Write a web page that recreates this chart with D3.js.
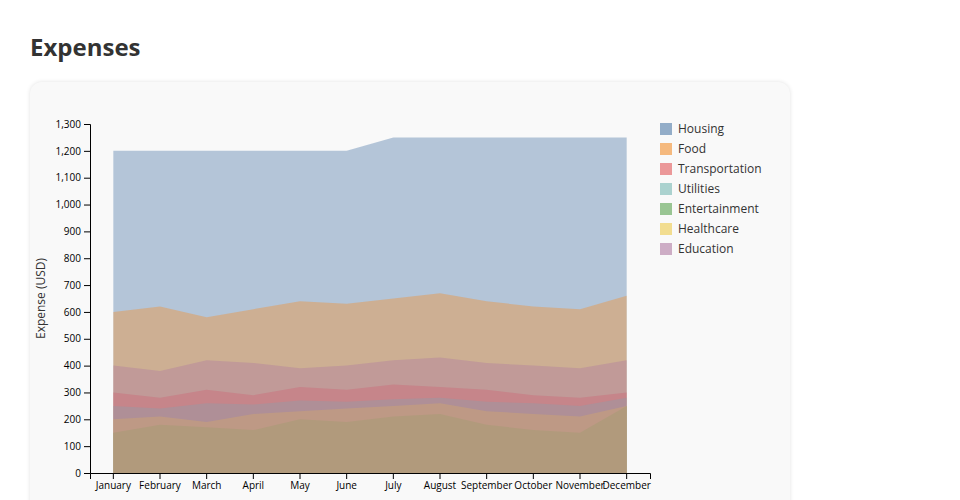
<!DOCTYPE html>
<html>
<head>
<meta charset="utf-8">
<script src="https://cdn.jsdelivr.net/npm/d3@7"></script>
<style>
  html, body { margin: 0; padding: 0; background: #fff; width: 960px; height: 500px; overflow: hidden; font-family: "Open Sans", sans-serif; }
  h1 { position: absolute; left: 30px; top: 30px; margin: 0; font-size: 24px; font-weight: 700; color: #333; line-height: 34px; }
  .card { position: absolute; left: 30px; top: 82px; width: 760px; height: 460px; background: #f9f9f9; border-radius: 12px; box-shadow: 0 0 4px rgba(0,0,0,0.12); }
  svg { position: absolute; left: 0; top: 0; }
  .tick text { font-family: "Open Sans", sans-serif; font-size: 10px; fill: #000; }
</style>
</head>
<body>
<h1>Expenses</h1>
<div class="card"></div>
<svg id="chart" width="960" height="500"></svg>
<script>
const months = ["January","February","March","April","May","June","July","August","September","October","November","December"];
const seriesNames = ["Housing","Food","Transportation","Utilities","Entertainment","Healthcare","Education"];
const housing        = [1200,1200,1200,1200,1200,1200,1250,1250,1250,1250,1250,1250];
const food           = [600,620,580,610,640,630,650,670,640,620,610,660];
const transportation = [300,280,310,290,320,310,330,320,310,290,280,300];
const utilities      = [250,240,260,255,270,265,275,280,265,260,250,280];
const entertainment  = [150,180,170,160,200,190,210,220,180,160,150,250];
const healthcare     = [200,210,190,220,230,240,250,260,230,220,210,250];
const education      = [400,380,420,410,390,400,420,430,410,400,390,420];
const yTicks = [0,100,200,300,400,500,600,700,800,900,1000,1100,1200,1300];

const seriesValues = [housing, food, transportation, utilities, entertainment, healthcare, education];
const colors = d3.scaleOrdinal().domain(seriesNames).range(d3.schemeTableau10);

const svg = d3.select("#chart");
const plotLeft = 90, plotRight = 650, plotTop = 124, plotBottom = 473;

const x = d3.scaleBand().domain(months).range([plotLeft, plotRight]).padding(0);
const y = d3.scaleLinear().domain([0, 1300]).range([plotBottom, plotTop]);

const area = d3.area()
  .x((d, i) => x(months[i]) + x.bandwidth() / 2)
  .y0(y(0))
  .y1(d => y(d));

seriesNames.forEach((name, k) => {
  svg.append("path")
    .datum(seriesValues[k])
    .attr("d", area)
    .attr("fill", colors(name))
    .attr("fill-opacity", 0.4);
});

svg.append("g")
  .attr("transform", `translate(0,${plotBottom})`)
  .call(d3.axisBottom(x));

svg.append("g")
  .attr("transform", `translate(${plotLeft},0)`)
  .call(d3.axisLeft(y).tickValues(yTicks).tickFormat(d3.format(",")));

svg.append("text")
  .attr("transform", `translate(45,${(plotTop + plotBottom) / 2}) rotate(-90)`)
  .attr("text-anchor", "middle")
  .style("font-family", "Open Sans, sans-serif")
  .style("font-size", "12px")
  .style("fill", "#333")
  .text("Expense (USD)");

const legend = svg.append("g").attr("transform", "translate(660,123)");
seriesNames.forEach((name, i) => {
  const g = legend.append("g").attr("transform", `translate(0,${i * 20})`);
  g.append("rect").attr("width", 12).attr("height", 12)
    .attr("fill", colors(name)).attr("fill-opacity", 0.6);
  g.append("text").attr("x", 18).attr("y", 6).attr("dy", "0.35em")
    .style("font-family", "Open Sans, sans-serif")
    .style("font-size", "12px")
    .style("fill", "#333")
    .text(name);
});
</script>
</body>
</html>
